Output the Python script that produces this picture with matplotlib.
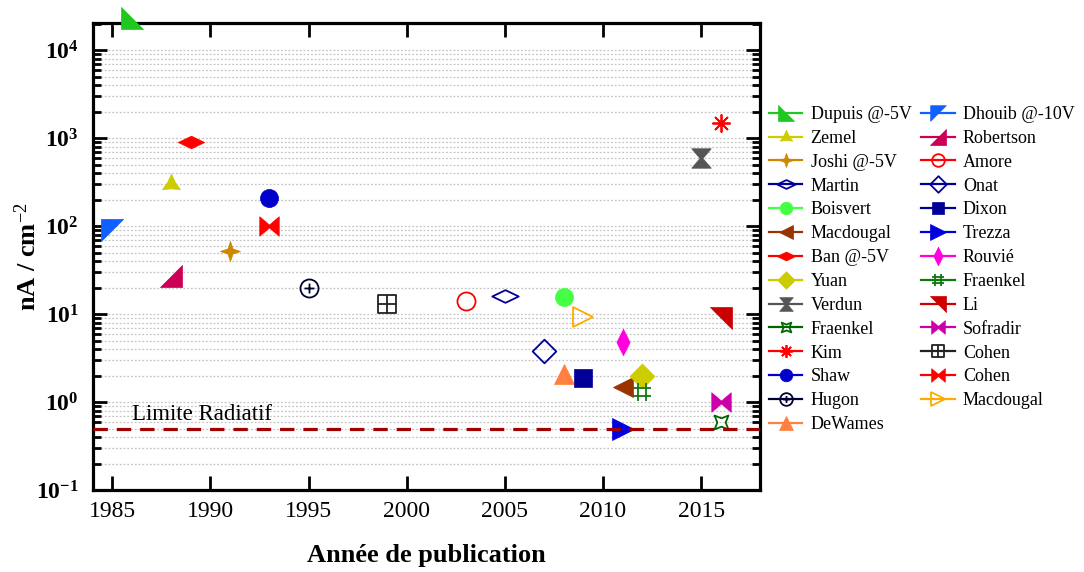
import numpy as np
import matplotlib
matplotlib.use('Agg')
from matplotlib import pyplot as plt
from matplotlib.path import Path
from matplotlib.ticker import FixedLocator, FuncFormatter, NullFormatter

plt.rcParams['font.family'] = 'Liberation Serif'
plt.rcParams['mathtext.fontset'] = 'custom'
plt.rcParams['mathtext.rm'] = 'Liberation Serif'
plt.rcParams['mathtext.bf'] = 'Liberation Serif:bold'
plt.rcParams['mathtext.it'] = 'Liberation Serif:italic'

# entries in legend order (2 columns, filled column by column)
auteurs = ['Dupuis @-5V', 'Zemel', 'Joshi @-5V', 'Martin', 'Boisvert', 'Macdougal',
           'Ban @-5V', 'Yuan', 'Verdun', 'Fraenkel', 'Kim', 'Shaw', 'Hugon', 'DeWames',
           'Dhouib @-10V', 'Robertson', 'Amore', 'Onat', 'Dixon', 'Trezza', 'Rouvié',
           'Fraenkel', 'Li', 'Sofradir', 'Cohen', 'Cohen', 'Macdougal']
annees = [1986, 1988, 1991, 2005, 2008, 2011, 1989, 2012, 2015, 2016, 2016, 1993, 1995, 2008,
          1985, 1988, 2003, 2007, 2009, 2011, 2011, 2012, 2016, 2016, 1999, 1993, 2009]
courant = [23000, 300, 52, 16, 15.5, 1.5, 900, 2.0, 600, 0.6, 1500, 210, 20, 2.1,
           90, 27, 14, 3.8, 1.9, 0.5, 4.8, 1.3, 9, 1.0, 13, 100, 9.3]
limite_radiative = 0.5


def closed(pts):
    return Path(list(pts) + [pts[0]], closed=True)


def star(n, r_in, rot=90):
    pts = []
    for k in range(2 * n):
        a = np.radians(rot + 180 * k / n)
        r = 1 if k % 2 == 0 else r_in
        pts.append((r * np.cos(a), r * np.sin(a)))
    return closed(pts)


M, L = Path.MOVETO, Path.LINETO
tri_bl = closed([(-1, 1), (-1, -1), (1, -1)])
tri_tl = closed([(-1, 1), (1, 1), (-1, -1)])
tri_br = closed([(1, 1), (1, -1), (-1, -1)])
tri_tr = closed([(-1, 1), (1, 1), (1, -1)])
diam_plat = closed([(-1, 0), (0, 0.48), (1, 0), (0, -0.48)])
diam = closed([(-1, 0), (0, 1), (1, 0), (0, -1)])
diam_fin = closed([(-0.5, 0), (0, 1), (0.5, 0), (0, -1)])
noeud_h = closed([(-1, 1), (0, 0.15), (1, 1), (1, -1), (0, -0.15), (-1, -1)])
noeud_v = closed([(-1, 1), (1, 1), (0.15, 0), (1, -1), (-1, -1), (-0.15, 0)])
dieze = Path([(-1, 0.4), (1, 0.4), (-1, -0.4), (1, -0.4),
              (0.4, 1), (0.4, -1), (-0.4, 1), (-0.4, -1)], [M, L] * 4)
creux = closed([(-1, -1), (0, -0.6), (1, -1), (0.6, 0), (1, 1), (0, 0.6), (-1, 1), (-0.6, 0)])
croix = Path([(-0.55, 0), (0.55, 0), (0, -0.55), (0, 0.55)], [M, L, M, L])
rond_plus = Path.make_compound_path(Path.unit_circle(), croix)
carre_croix = Path.make_compound_path(
    closed([(-1, -1), (1, -1), (1, 1), (-1, 1)]),
    Path([(-1, 0), (1, 0), (0, -1), (0, 1)], [M, L, M, L]))

marqueurs = [tri_bl, star(3, 0.42), star(4, 0.36, 0), diam_plat, 'o', '<', diam_plat, diam,
             noeud_v, creux, (8, 2, 0), 'o', rond_plus, '^',
             tri_tl, tri_br, 'o', diam, 's', '>', diam_fin, dieze, tri_tr, noeud_h,
             carre_croix, noeud_h, '>']
couleurs = ['#1ec81e', '#cccc00', '#cc8800', '#000099', '#44ff44', '#993300', '#ff0000',
            '#cccc00', '#555555', '#006600', '#ff0000', '#0000cc', '#000033', '#ff8040',
            '#1060ff', '#cc0055', '#ff0000', '#000099', '#000099', '#0000dd', '#ff00dd',
            '#117711', '#cc0000', '#cc00aa', '#222222', '#ff0000', '#ffaa00']
tailles = [16, 15, 14.5, 19, 13, 15, 19, 18, 14, 10, 13, 13, 13, 15,
           16, 16, 13, 17, 12.7, 15.5, 19, 13, 16, 14, 12.5, 14, 14.5]
vides = [False, False, False, True, False, False, False, False, False, True, True, False, True, False,
         False, False, True, True, False, False, False, True, False, False, True, False, True]

fig = plt.figure(figsize=(10.84, 5.72), dpi=100)
ax = fig.add_axes([92.7 / 1084, 1 - 490 / 572, (760 - 92.7) / 1084, (490 - 22.7) / 572])
ax.set_yscale('log')

for nom, x, y, m, c, s, v in zip(auteurs, annees, courant, marqueurs, couleurs, tailles, vides):
    ax.plot([x], [y], '-', marker=m, color=c, ms=s, lw=1.6,
            mfc='none' if v else c, mec=c, mew=1.3 if v else 0.5,
            label=nom, clip_on=(x != 1986), zorder=3)

ax.axhline(limite_radiative, color='#a00000', lw=2.3, dashes=(4.5, 2.8), zorder=4)
ax.text(1986, 0.63, 'Limite Radiatif', fontsize=16.5, va='baseline')

ax.set_xlim(1984, 2018)
ax.set_ylim(0.1, 2.05e4)
ax.set_xticks(range(1985, 2016, 5))
ax.yaxis.set_major_locator(FixedLocator([10.0 ** e for e in range(-1, 5)]))
ax.yaxis.set_minor_locator(FixedLocator([k * 10.0 ** e for e in range(-1, 4) for k in range(2, 10)]
                                        + [2e4]))
ax.yaxis.set_minor_formatter(NullFormatter())
ax.yaxis.set_major_formatter(FuncFormatter(
    lambda v, p: r'$\mathbf{10^{%d}}$' % round(np.log10(v))))

ax.tick_params(axis='both', which='both', direction='in', top=True, right=True)
ax.tick_params(axis='both', which='major', length=10, width=2)
ax.tick_params(axis='y', which='minor', length=6, width=2)
ax.tick_params(axis='x', labelsize=17, pad=8)
ax.tick_params(axis='y', labelsize=17, pad=10)
for sp in ax.spines.values():
    sp.set_linewidth(2.3)

ax.grid(True, axis='y', which='both', ls=(0, (1.5, 1.5)), color='#c4c4c4', lw=0.9)
ax.set_axisbelow(True)

ax.set_xlabel('Année de publication', fontsize=19, fontweight='bold', labelpad=16)
ax.set_ylabel(r'nA / cm$^{-2}$', fontsize=19, fontweight='bold')
ax.yaxis.set_label_coords(-0.077, 0.5)

fig.legend(loc='upper left', bbox_to_anchor=(769 / 1084, 1 - 106 / 572), ncol=2,
           frameon=False, fontsize=13, markerscale=0.7, handlelength=1.85,
           labelspacing=0.38, columnspacing=0.55, handletextpad=0.45, borderpad=0,
           borderaxespad=0)

fig.savefig('out.png', dpi=100)
